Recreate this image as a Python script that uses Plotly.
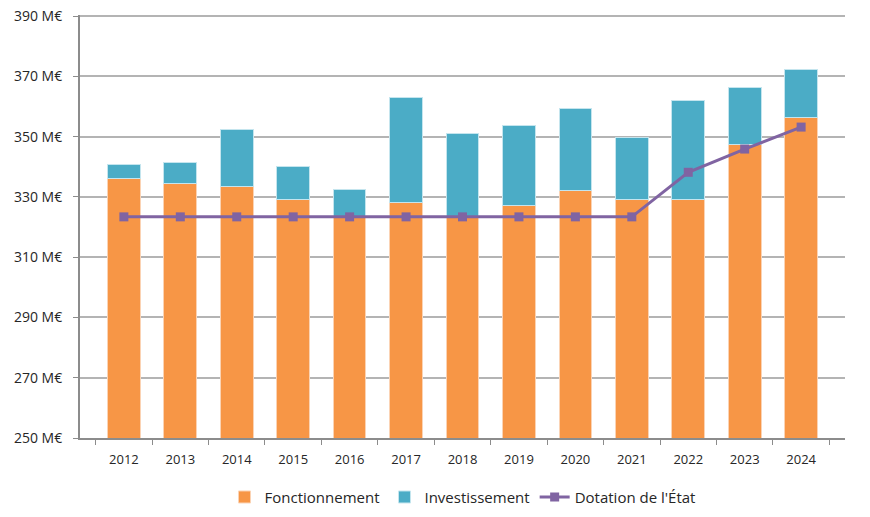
import plotly.graph_objects as go

years = ["2012", "2013", "2014", "2015", "2016", "2017", "2018", "2019", "2020", "2021", "2022", "2023", "2024"]
fonctionnement = [336.1, 334.6, 333.4, 329.3, 323.5, 328.2, 323.5, 327.3, 332.3, 329.0, 329.0, 347.5, 356.4]
total = [340.7, 341.3, 352.4, 340.2, 332.6, 363.1, 351.1, 353.8, 359.5, 349.9, 362.0, 366.3, 372.4]
investissement = [round(t - f, 1) for t, f in zip(total, fonctionnement)]
dotation = [323.4, 323.4, 323.4, 323.4, 323.4, 323.4, 323.4, 323.4, 323.4, 323.4, 338.2, 345.9, 353.2]
y_ticks = [250, 270, 290, 310, 330, 350, 370, 390]
y_tick_labels = [f"{v} M€" for v in y_ticks]

FONT = "Open Sans"

fig = go.Figure()
fig.add_trace(go.Bar(
    x=years, y=fonctionnement, name="Fonctionnement",
    marker=dict(color="#F79646", line=dict(color="#FBD3B4", width=1)),
))
fig.add_trace(go.Bar(
    x=years, y=investissement, name="Investissement",
    marker=dict(color="#4BACC6", line=dict(color="#C4E5EE", width=1)),
))
fig.add_trace(go.Scatter(
    x=years, y=dotation, name="Dotation de l'État", mode="lines+markers",
    line=dict(color="#8064A2", width=3),
    marker=dict(symbol="square", size=9, color="#8064A2"),
))

fig.update_layout(
    barmode="stack",
    bargap=0.42,
    width=870, height=517,
    margin=dict(l=80, r=25, t=15, b=79, autoexpand=False),
    plot_bgcolor="white", paper_bgcolor="white",
    font=dict(family=FONT, size=13, color="#262626"),
    showlegend=True,
    legend=dict(orientation="h", x=0.5, xanchor="center", y=-0.14, yanchor="middle",
                font=dict(size=15, color="#262626"), itemwidth=30, traceorder="normal"),
)
fig.update_yaxes(
    range=[250, 390.4], tickmode="array", tickvals=y_ticks, ticktext=y_tick_labels,
    showgrid=True, gridcolor="#B4B4B4", gridwidth=1.5,
    showline=True, linecolor="#8C8C8C", linewidth=2,
    ticks="outside", ticklen=5, tickcolor="#8C8C8C", ticklabelstandoff=8,
    zeroline=False, tickfont=dict(size=14), automargin=False,
)
fig.update_xaxes(
    type="category", tickson="boundaries",
    showline=True, linecolor="#8C8C8C", linewidth=2,
    ticks="outside", ticklen=5, tickcolor="#8C8C8C", ticklabelstandoff=8,
    showgrid=False, tickfont=dict(size=13), automargin=False,
)

fig.write_html("out.html", config={"displayModeBar": False},
               post_script="document.body.style.margin='0';document.body.style.overflow='hidden';")
